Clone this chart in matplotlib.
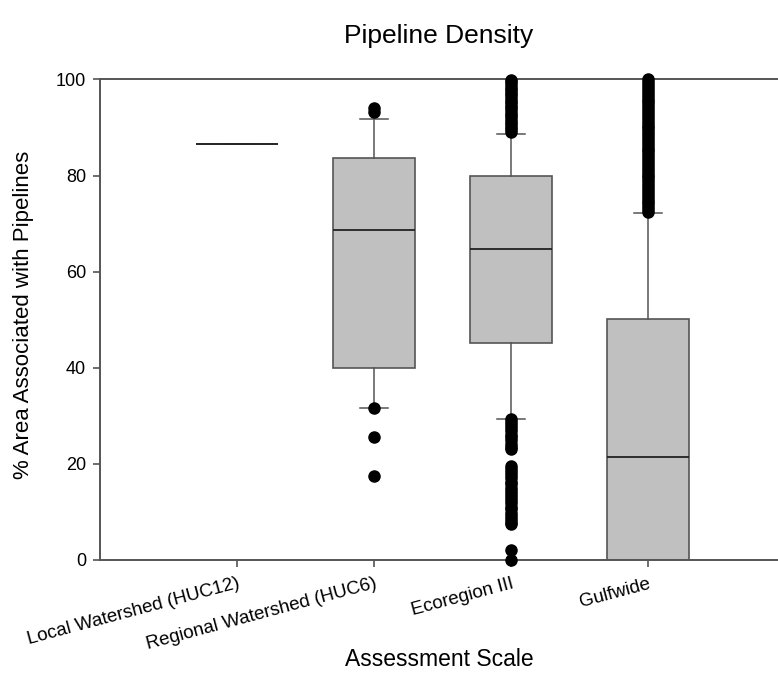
import matplotlib
matplotlib.use("Agg")
import matplotlib.pyplot as plt

plt.rcParams['font.family'] = ['Liberation Sans', 'DejaVu Sans']

categories = ["Local Watershed (HUC12)", "Regional Watershed (HUC6)", "Ecoregion III", "Gulfwide"]

# box statistics
medians = [86.6, 68.7, 64.7, 21.4]
q1 = [86.6, 40.0, 45.2, 0.0]
q3 = [86.6, 83.7, 79.8, 50.2]
whis_lo = [86.6, 31.7, 29.4, 0.0]
whis_hi = [86.6, 91.8, 88.7, 72.2]

# outliers
fliers_local = []
fliers_regional = [94.1, 93.2, 31.7, 25.5, 17.5]
fliers_eco = [89.1, 89.6, 90.1, 90.7, 91.2, 91.8, 92.3, 92.9, 93.4, 94.0, 94.5,
              95.0, 95.6, 96.1, 96.7, 97.2, 97.8, 98.3, 98.9, 99.4, 99.8,
              29.3, 28.7, 28.1, 27.4, 26.8, 26.1, 25.5, 24.9, 24.2, 23.6, 23.1,
              19.6, 19.0, 18.3, 17.6, 17.0, 16.3, 15.7, 15.0, 14.4, 13.7, 13.1,
              12.4, 11.8, 11.1, 10.5, 9.8, 9.2, 8.5, 7.9, 7.5,
              2.1, 0.0]
fliers_gulf = [72.4, 73.0, 73.6, 74.2, 74.8, 75.4, 76.0, 76.6, 77.2, 77.8, 78.4,
               79.0, 79.6, 80.2, 80.8, 81.4, 82.0, 82.6, 83.2, 83.8, 84.4, 85.0,
               85.6, 86.2, 86.8, 87.4, 88.0, 88.6, 89.2, 89.8, 90.4, 91.0, 91.6,
               92.2, 92.8, 93.4, 94.0, 94.6, 95.2, 95.8, 96.4, 97.0, 97.6, 98.2,
               98.8, 99.4, 100.0]
fliers = [fliers_local, fliers_regional, fliers_eco, fliers_gulf]

stats = []
for i in range(len(categories)):
    stats.append({"med": medians[i], "q1": q1[i], "q3": q3[i],
                  "whislo": whis_lo[i], "whishi": whis_hi[i],
                  "fliers": fliers[i], "label": categories[i]})

fig = plt.figure(figsize=(7.78, 6.73), dpi=100)
ax = fig.add_axes([0.1285, 0.168, 0.8715, 0.714])

edge = "#555555"
bp = ax.bxp(stats, positions=[1, 2, 3, 4], widths=0.6, capwidths=0.2, patch_artist=True,
            boxprops=dict(facecolor="#c0c0c0", edgecolor=edge, linewidth=1.2),
            medianprops=dict(color="#222222", linewidth=1.3),
            whiskerprops=dict(color=edge, linewidth=1.1),
            capprops=dict(color=edge, linewidth=1.1),
            flierprops=dict(marker="o", markerfacecolor="black", markeredgecolor="black",
                            markersize=8))
for f in bp["fliers"]:
    f.set_clip_on(False)
    f.set_zorder(5)

ax.set_xlim(0, 4.95)
ax.set_ylim(0, 100)
ax.set_yticks([0, 20, 40, 60, 80, 100])
ax.set_xticks([1, 2, 3, 4])
ax.set_xticklabels(categories, rotation=15, ha="right", rotation_mode="anchor", fontsize=13.5)
ax.tick_params(axis="y", labelsize=13, length=5, color=edge, width=1.2, pad=5)
ax.tick_params(axis="x", length=5, color=edge, width=1.2, pad=6)

for s in ["left", "bottom", "top"]:
    ax.spines[s].set_color(edge)
    ax.spines[s].set_linewidth(1.4)
ax.spines["right"].set_visible(False)

ax.set_title("Pipeline Density", fontsize=19, pad=26)
ax.set_xlabel("Assessment Scale", fontsize=16.5, va="center")
ax.xaxis.set_label_coords(0.5, -0.208)
ax.set_ylabel("% Area Associated with Pipelines", fontsize=16, va="center")
ax.yaxis.set_label_coords(-0.113, 0.51)

fig.savefig("out.png", dpi=100)
